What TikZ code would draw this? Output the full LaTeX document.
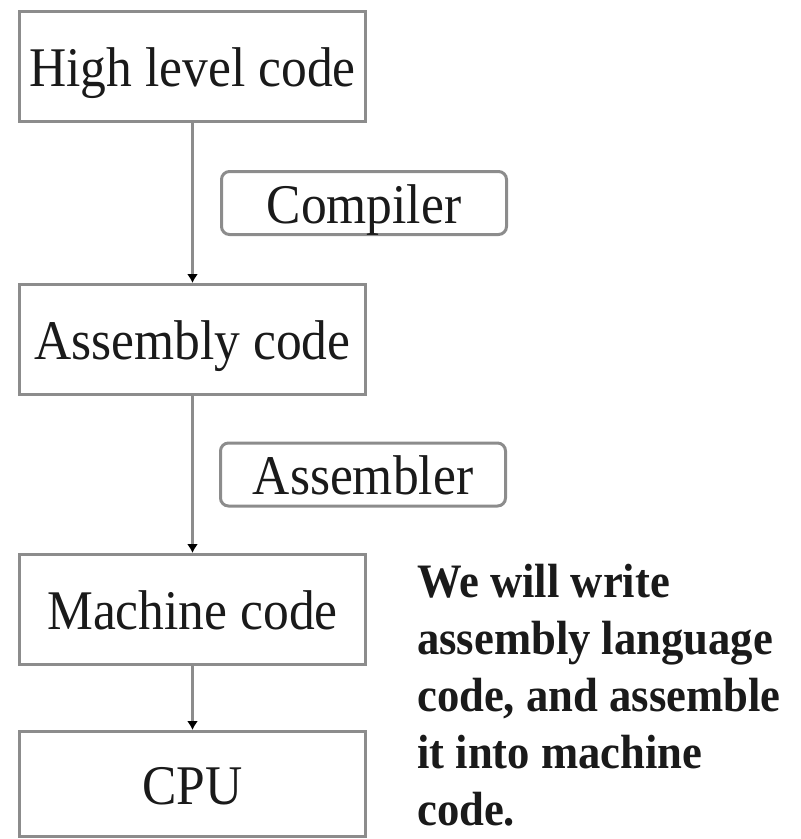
\documentclass[tikz,border=0pt]{standalone}
\usepackage{fontspec}
\setmainfont{Liberation Serif}
\newfontfamily\boxfont[FakeStretch=0.92]{Liberation Serif}
\newfontfamily\notefont[FakeStretch=0.93]{Liberation Serif}
\usetikzlibrary{arrows.meta}
\definecolor{boxgray}{HTML}{8C8C8C}
\definecolor{inkc}{HTML}{1A1A1A}
\begin{document}
\begin{tikzpicture}[x=1pt,y=-1pt,
  stage/.style={draw=boxgray, line width=3pt, minimum width=346pt, minimum height=110pt,
    inner sep=0pt, text=inkc, text height=40pt, text depth=0pt, font=\boxfont\fontsize{56}{64}\selectfont},
  tool/.style={draw=boxgray, line width=3pt, rounded corners=8pt, minimum width=285pt,
    minimum height=63pt, inner sep=0pt, text=inkc, text height=40pt, text depth=0pt, font=\boxfont\fontsize{56}{64}\selectfont},
  flow/.style={draw=boxgray, line width=3pt, -{Latex[length=9pt,width=11pt,black]}},
  note/.style={align=left, inner sep=0pt, text=inkc, font=\notefont\fontsize{48}{57}\selectfont\bfseries}]
\useasboundingbox (0,0) rectangle (801,839);
\node[stage] (high) at (192.5,66.5) {High level code};
\node[stage] (asm) at (192.5,339.5) {Assembly code};
\node[stage] (mach) at (192.5,609.5) {Machine code};
\node[stage, minimum height=105pt] (cpu) at (192.5,784) {CPU};
\node[tool] (comp) at (364,203) {Compiler};
\node[tool] (assm) at (363,474.5) {Assembler};
\draw[flow] (high) -- (asm);
\draw[flow] (asm) -- (mach);
\draw[flow] (mach) -- (cpu);
\node[note, anchor=north west] (txt) at (417,564) {We will write\\assembly language\\code, and assemble\\it into machine\\code.};
\end{tikzpicture}
\end{document}
